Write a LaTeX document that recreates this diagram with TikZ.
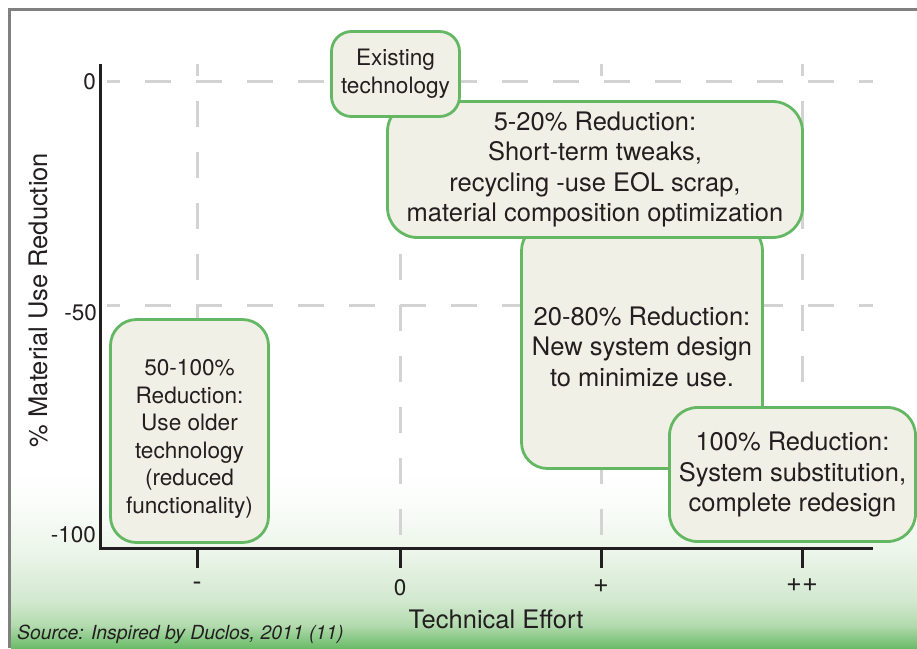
\documentclass[tikz,border=0pt]{standalone}
\usepackage{fontspec}
\setmainfont{TeX Gyre Heros}
\definecolor{boxfill}{HTML}{F1F0E6}
\definecolor{boxline}{HTML}{64B864}
\definecolor{gridc}{HTML}{D3D3D3}
\definecolor{ink}{HTML}{231F20}
\definecolor{framec}{HTML}{808080}
\definecolor{gA}{HTML}{6BBC69}
\definecolor{gB}{HTML}{B3DBAF}
\definecolor{gC}{HTML}{D3E9D0}
\definecolor{gD}{HTML}{EDF6EB}
\definecolor{gE}{HTML}{FAFDFA}
\pgfdeclareverticalshading{bggrad}{100bp}{color(0bp)=(gA); color(25bp)=(gA); color(31.5bp)=(gB); color(38.5bp)=(gC); color(53bp)=(gD); color(66bp)=(gE); color(75bp)=(white); color(100bp)=(white)}
\tikzset{
  gridline/.style={draw=gridc, line width=3pt, dash pattern=on 26pt off 25pt},
  axisline/.style={draw=ink, line width=3pt, line join=miter},
  rbox/.style={draw=boxline, fill=boxfill, line width=2.8pt, rounded corners=26pt, align=center, text=ink, inner sep=0pt},
  bigtxt/.style={font=\fontsize{25.5}{30.5}\selectfont},
  smalltxt/.style={font=\fontsize{22.6}{27.6}\selectfont},
  ticklbl/.style={text=ink, font=\fontsize{22.5}{26}\selectfont, inner sep=0pt},
  signlbl/.style={text=ink, font=\fontsize{27}{30}\selectfont, inner sep=0pt},
  axlbl/.style={text=ink, font=\fontsize{25.5}{30}\selectfont, inner sep=0pt}
}
\begin{document}
\begin{tikzpicture}[x=1pt,y=-1pt]
\useasboundingbox (0,0) rectangle (917,648);
% background gradient and frame
\shade[shading=bggrad] (11,470) rectangle (917,648);
\draw[framec, line width=3pt] (9.5,648) -- (9.5,9.5) -- (917,9.5);
% grid
\draw[gridline, dash phase=13pt] (107,81) -- (873,81);
\draw[gridline, dash phase=13pt] (107,305) -- (873,305);
\foreach \gx in {197,400,601,802}{
  \draw[gridline, dash phase=14pt] (\gx,64) -- (\gx,548);
}
% axes
\coordinate (ytop) at (100,64);
\coordinate (origin) at (100,548);
\coordinate (xend) at (873,548);
\draw[axisline] (ytop) -- (origin) -- (xend);
\foreach \gx in {197,400,601,802}{
  \draw[axisline] (\gx,548) -- (\gx,568);
}
% tick labels
\node[ticklbl, anchor=east] (y0) at (96,82) {0};
\node[ticklbl, anchor=east] (y50) at (97,313) {-50};
\node[ticklbl, anchor=east] (y100) at (96,535) {-100};
\node[signlbl, anchor=base] (xm) at (197,590) {-};
\node[ticklbl, anchor=base] (x0) at (400,595) {0};
\node[signlbl, anchor=base] (xp) at (601,592) {+};
\node[signlbl, anchor=base] (xpp) at (802,591) {++};
% axis titles
\node[axlbl] (xtitle) at (496,619) {Technical Effort};
\node[axlbl, rotate=90] (ytitle) at (38,300) {\% Material Use Reduction};
\node[text=ink, font=\fontsize{19.4}{22}\selectfont\itshape, anchor=west, inner sep=0pt] (src) at (17,634) {Source: Inspired by Duclos, 2011 (11)};
% boxes
\node[rbox, bigtxt, minimum width=241pt, minimum height=244pt] (b3) at (642,346.5)
  {20-80\% Reduction:\\New system design\\to minimize use.};
\node[rbox, bigtxt, minimum width=415pt, minimum height=136pt, rounded corners=30pt] (b2) at (595,169.5)
  {5-20\% Reduction:\\Short-term tweaks,\\recycling -use EOL scrap,\\material composition optimization};
\node[rbox, font=\fontsize{22.6}{28}\selectfont, minimum width=128pt, minimum height=85pt, rounded corners=20pt] (b1) at (395.5,74)
  {Existing\\technology};
\node[rbox, bigtxt, minimum width=246pt, minimum height=134pt, rounded corners=28pt] (b4) at (792.5,474.5)
  {100\% Reduction:\\System substitution,\\complete redesign};
\node[rbox, minimum width=158pt, minimum height=223pt] (b5) at (189.5,431) {};
\node[smalltxt, align=center, text=ink, inner sep=0pt] (t5) at ([yshift=-8pt]b5.center)
  {50-100\%\\Reduction:\\Use older\\technology\\(reduced\\functionality)};
\end{tikzpicture}
\end{document}
